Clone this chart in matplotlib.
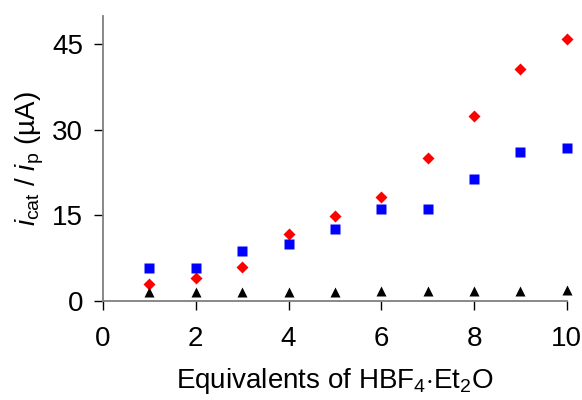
import matplotlib
matplotlib.use('Agg')
import matplotlib.pyplot as plt

plt.rcParams['font.family'] = ['Liberation Sans', 'DejaVu Sans']
plt.rcParams['mathtext.fontset'] = 'custom'
plt.rcParams['mathtext.rm'] = 'Liberation Sans'
plt.rcParams['mathtext.it'] = 'Liberation Sans:italic'

# --- data ---
equiv     = [1, 2, 3, 4, 5, 6, 7, 8, 9, 10]
red_vals  = [3.0, 4.0, 5.9, 11.7, 14.8, 18.3, 25.1, 32.5, 40.7, 45.9]
blue_vals = [5.8, 5.8, 8.8, 10.0, 12.6, 16.1, 16.2, 21.3, 26.1, 26.9]
blk_vals  = [1.5, 1.5, 1.5, 1.6, 1.6, 1.7, 1.7, 1.8, 1.8, 1.9]
xticks = [0, 2, 4, 6, 8, 10]
yticks = [0, 15, 30, 45]

fig = plt.figure(figsize=(5.82, 4.0), dpi=100)
ax = fig.add_axes([0.177, 0.248, 0.797, 0.712])

ax.plot(equiv, red_vals,  'D', color='#ff0000', ms=6, mec='none', clip_on=False)
ax.plot(equiv, blue_vals, 's', color='#0000ff', ms=6.5, mec='none', clip_on=False)
ax.plot(equiv, blk_vals,  '^', color='black',   ms=7, mec='none', clip_on=False)

ax.set_xlim(0, 10)
ax.set_ylim(0, 50)
ax.set_xticks(xticks)
ax.set_yticks(yticks)

for s in ['top', 'right']:
    ax.spines[s].set_visible(False)
for s in ['left', 'bottom']:
    ax.spines[s].set_color('#7f7f7f')
    ax.spines[s].set_linewidth(1.3)

ax.tick_params(axis='x', direction='out', length=6.5, width=1, labelsize=20, pad=12)
ax.tick_params(axis='y', direction='out', length=6.5, width=1, labelsize=20, pad=8)

ax.set_xlabel(r'Equivalents of HBF$_4$$\cdot$Et$_2$O', fontsize=20, labelpad=10)
ax.set_ylabel(r'$i_{\rm cat}$ / $i_{\rm p}$ (µA)', fontsize=20, labelpad=4)

fig.savefig('out.png', dpi=100)
